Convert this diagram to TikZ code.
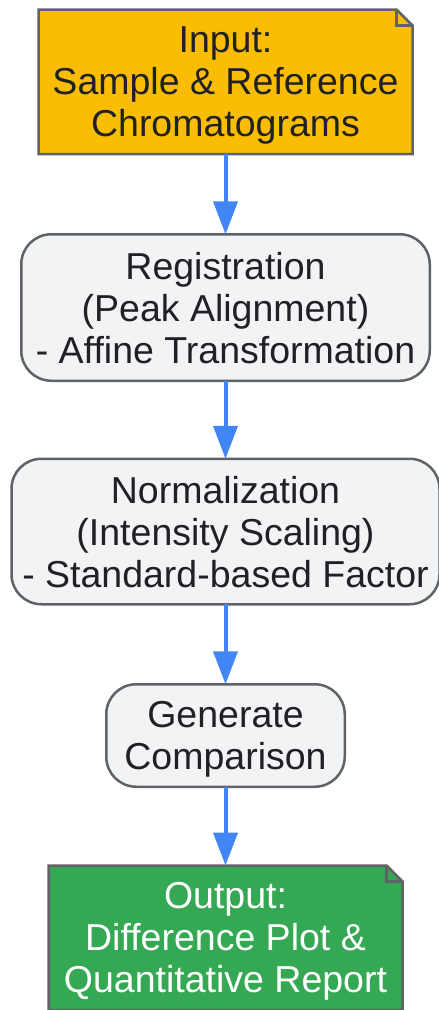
\documentclass[tikz,border=0pt]{standalone}
\usepackage{fontspec}
\setmainfont{Liberation Sans}
\usetikzlibrary{backgrounds,arrows.meta}
\definecolor{inyellow}{HTML}{FBBC04}
\definecolor{outgreen}{HTML}{34A853}
\definecolor{stepgray}{HTML}{F1F3F4}
\definecolor{edgegray}{HTML}{5F6368}
\definecolor{flowblue}{HTML}{4285F4}
\definecolor{inktext}{HTML}{202124}
\tikzset{
  stepbox/.style={rectangle, rounded corners=30pt, draw=edgegray, line width=2.5pt,
    fill=stepgray, text=inktext, align=center, outer sep=0pt, text depth=-5pt,
    font=\fontsize{37.5}{42}\selectfont},
  notebox/.style={rectangle, align=center, outer sep=0pt, inner sep=0pt, text depth=-18pt,
    font=\fontsize{37.5}{42}\selectfont},
  noteline/.style={draw=edgegray, line width=2.5pt, line join=miter},
  flow/.style={-{Triangle[length=33pt,width=24pt]}, draw=flowblue, line width=4pt}
}
\begin{document}
\begin{tikzpicture}[x=1pt,y=-1pt]
\useasboundingbox (0,0) rectangle (439,1010);
% nodes
\node [notebox, text=inktext, minimum width=374pt, minimum height=144.5pt] (input) at (225.5,81.75) {Input:\\Sample \& Reference\\Chromatograms};
\node [stepbox, minimum width=408.5pt, minimum height=146.5pt] (reg) at (225.5,307.5) {Registration\\(Peak Alignment)\\- Affine Transformation};
\node [stepbox, minimum width=428pt, minimum height=145.5pt] (norm) at (225.5,531.5) {Normalization\\(Intensity Scaling)\\- Standard-based Factor};
\node [stepbox, minimum width=238.5pt, minimum height=102.5pt] (gen) at (225.5,735.5) {Generate\\Comparison};
\node [notebox, text=white, minimum width=354pt, minimum height=144.5pt] (output) at (225.5,937.75) {Output:\\Difference Plot \&\\Quantitative Report};
% folded notes
\begin{pgfonlayer}{background}
\filldraw [noteline, fill=inyellow] (input.north west) -- ([xshift=-16pt]input.north east) -- ([yshift=-16pt]input.north east) -- (input.south east) -- (input.south west) -- cycle;
\draw [noteline] ([xshift=-16pt]input.north east) |- ([yshift=-16pt]input.north east);
\filldraw [noteline, fill=outgreen] (output.north west) -- ([xshift=-16pt]output.north east) -- ([yshift=-16pt]output.north east) -- (output.south east) -- (output.south west) -- cycle;
\draw [noteline] ([xshift=-16pt]output.north east) |- ([yshift=-16pt]output.north east);
\end{pgfonlayer}
% arrows
\draw [flow] (input) -- (reg);
\draw [flow] (reg) -- (norm);
\draw [flow] (norm) -- (gen);
\draw [flow] (gen) -- (output);
\end{tikzpicture}
\end{document}
